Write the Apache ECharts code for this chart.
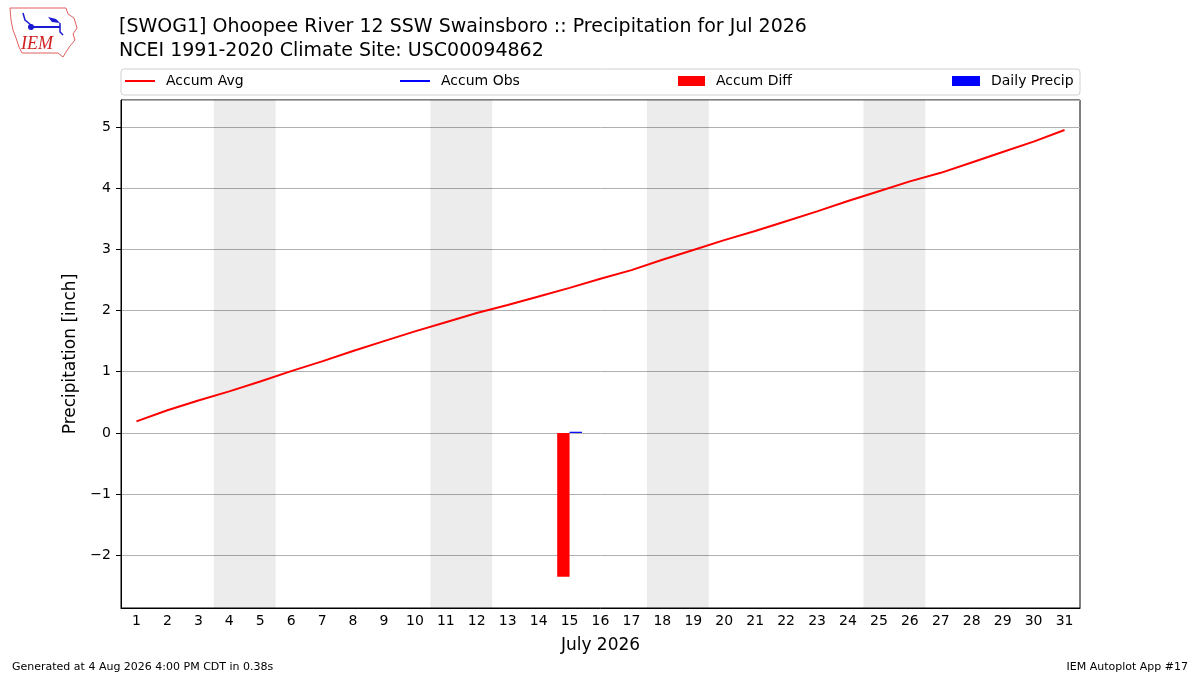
<!DOCTYPE html>
<html>
<head>
<meta charset="utf-8">
<script src="https://cdn.jsdelivr.net/npm/echarts@6/dist/echarts.min.js"></script>
<style>
html,body{margin:0;padding:0;background:#fff;}
#chart{width:1200px;height:675px;}
</style>
</head>
<body>
<div id="chart"></div>
<script>
// ---- data ----
const days = ['1','2','3','4','5','6','7','8','9','10','11','12','13','14','15','16','17','18','19','20','21','22','23','24','25','26','27','28','29','30','31'];
const accumAvg = [0.19,0.37,0.53,0.68,0.84,1.01,1.17,1.34,1.50,1.66,1.81,1.96,2.09,2.23,2.37,2.52,2.66,2.83,2.99,3.15,3.30,3.46,3.62,3.79,3.95,4.11,4.25,4.42,4.59,4.76,4.95];
const accumObs = [null,null,null,null,null,null,null,null,null,null,null,null,null,null,0.02,null,null,null,null,null,null,null,null,null,null,null,null,null,null,null,null];
const accumDiff = [null,null,null,null,null,null,null,null,null,null,null,null,null,null,-2.35,null,null,null,null,null,null,null,null,null,null,null,null,null,null,null,null];
const dailyPrecip = [null,null,null,null,null,null,null,null,null,null,null,null,null,null,0.02,null,null,null,null,null,null,null,null,null,null,null,null,null,null,null,null];
const weekendDays = [[4,5],[11,12],[18,19],[25,26]];
const titleLine1 = '[SWOG1] Ohoopee River 12 SSW Swainsboro :: Precipitation for Jul 2026';
const titleLine2 = 'NCEI 1991-2020 Climate Site: USC00094862';

const FONT = 'DejaVu Sans';
const chart = echarts.init(document.getElementById('chart'), null, {renderer:'canvas'});

const legendBase = {
  top: 74, orient: 'horizontal', itemGap: 10,
  textStyle: {fontFamily: FONT, fontSize: 14, color: '#000', padding: [0, 0, 0, 6]},
  selectedMode: false, padding: 0
};

const option = {
  animation: false,
  backgroundColor: '#fff',
  textStyle: {fontFamily: FONT},
  title: [
    {text: titleLine1, left: 119, top: 18, padding: 0, textStyle: {fontFamily: FONT, fontSize: 19, fontWeight: 'normal', color: '#000'}},
    {text: titleLine2, left: 119, top: 42, padding: 0, textStyle: {fontFamily: FONT, fontSize: 19, fontWeight: 'normal', color: '#000'}},
    {text: 'Generated at 4 Aug 2026 4:00 PM CDT in 0.38s', left: 12, top: 662, padding: 0, textStyle: {fontFamily: FONT, fontSize: 11, fontWeight: 'normal', color: '#000'}},
    {text: 'IEM Autoplot App #17', right: 12, top: 662, padding: 0, textStyle: {fontFamily: FONT, fontSize: 11, fontWeight: 'normal', color: '#000'}}
  ],
  legend: [
    Object.assign({}, legendBase, {left: 125, data: [{name: 'Accum Avg', icon: 'rect'}], itemWidth: 30, itemHeight: 2}),
    Object.assign({}, legendBase, {left: 400, data: [{name: 'Accum Obs', icon: 'rect'}], itemWidth: 30, itemHeight: 2}),
    Object.assign({}, legendBase, {left: 678, data: [{name: 'Accum Diff', icon: 'rect'}], itemWidth: 27, itemHeight: 10}),
    Object.assign({}, legendBase, {left: 952, data: [{name: 'Daily Precip', icon: 'rect'}], itemWidth: 28, itemHeight: 10})
  ],
  grid: {left: 121, right: 120, top: 100, bottom: 67, show: true, borderColor: '#000', borderWidth: 1, backgroundColor: 'transparent'},
  xAxis: [
    {
      type: 'category', data: days, boundaryGap: true,
      name: 'July 2026', nameLocation: 'middle', nameGap: 29,
      nameTextStyle: {fontFamily: FONT, fontSize: 17, color: '#000'},
      axisLine: {onZero: false, lineStyle: {color: '#000'}},
      axisTick: {alignWithLabel: true, length: 5, lineStyle: {color: '#000'}},
      axisLabel: {interval: 0, fontFamily: FONT, fontSize: 14, color: '#000', margin: 6},
      splitLine: {show: false}
    },
    {type: 'value', min: 0.5, max: 31.5, show: false}
  ],
  yAxis: {
    type: 'value', min: -2.86, max: 5.44, splitNumber: 8,
    name: 'Precipitation [inch]', nameLocation: 'middle', nameGap: 37, nameRotate: 90,
    nameTextStyle: {fontFamily: FONT, fontSize: 17, color: '#000'},
    axisLine: {show: true, lineStyle: {color: '#000'}},
    axisTick: {show: true, length: 5, lineStyle: {color: '#000'}},
    axisLabel: {
      fontFamily: FONT, fontSize: 14, color: '#000', margin: 10,
      showMinLabel: false, showMaxLabel: false,
      formatter: function (v) {
        if (Math.abs(v - Math.round(v)) > 1e-6) return '';
        return v < 0 ? '\u2212' + Math.abs(v) : String(v);
      }
    },
    splitLine: {show: true, lineStyle: {color: '#b0b0b0', width: 1}}
  },
  series: [
    {
      name: 'weekend', type: 'line', xAxisIndex: 1, data: [], silent: true, z: 1,
      markArea: {
        silent: true,
        itemStyle: {color: 'rgba(0,0,0,0.075)'},
        data: weekendDays.map(w => [{xAxis: w[0] - 0.5}, {xAxis: w[1] + 0.5}])
      }
    },
    {
      name: 'Accum Avg', type: 'line', data: accumAvg, symbol: 'none', showSymbol: false,
      lineStyle: {color: '#ff0000', width: 2}, itemStyle: {color: '#ff0000'}, z: 5
    },
    {
      name: 'Accum Obs', type: 'line', data: accumObs, symbol: 'none', showSymbol: false,
      lineStyle: {color: '#0000ff', width: 2}, itemStyle: {color: '#0000ff'}, z: 5
    },
    {
      name: 'Accum Diff', type: 'bar', data: accumDiff, barWidth: '40%', barGap: '0%',
      itemStyle: {color: '#ff0000'}, z: 4
    },
    {
      name: 'Daily Precip', type: 'bar', data: dailyPrecip, barWidth: '40%', barGap: '0%',
      itemStyle: {color: '#0000ff'}, z: 4
    }
  ],
  graphic: [
    {type: 'rect', shape: {x: 121, y: 69, width: 959, height: 26, r: 3}, style: {fill: 'none', stroke: '#d0d0d0', lineWidth: 1}, silent: true},
    // IEM logo (approximation)
    {type: 'polyline', shape: {points: [[10,8],[66,8],[68,14],[74,18],[77,28],[73,34],[75,40],[70,46],[66,52],[63,57],[58,53],[22,53],[19,47],[16,38],[13,30],[11,20],[10,8]]}, style: {stroke: '#e06060', fill: 'none', lineWidth: 1}, silent: true},
    {type: 'polyline', shape: {points: [[29,27],[60,27]]}, style: {stroke: '#1a1ad0', lineWidth: 2}, silent: true},
    {type: 'circle', shape: {cx: 31, cy: 27, r: 3}, style: {fill: '#1a1ad0'}, silent: true},
    {type: 'polyline', shape: {points: [[23,13],[25,20],[31,25]]}, style: {stroke: '#1a1ad0', lineWidth: 1.5, fill: 'none'}, silent: true},
    {type: 'polygon', shape: {points: [[48,17],[56,19],[60,23],[52,22]]}, style: {fill: '#1a1ad0'}, silent: true},
    {type: 'polyline', shape: {points: [[60,23],[60,32],[63,35]]}, style: {stroke: '#1a1ad0', lineWidth: 1.5, fill: 'none'}, silent: true},
    {type: 'text', left: 21, top: 35, style: {text: 'IEM', font: 'italic 18px "Liberation Serif"', fill: '#d02020'}, silent: true}
  ]
};
chart.setOption(option);
</script>
</body>
</html>
